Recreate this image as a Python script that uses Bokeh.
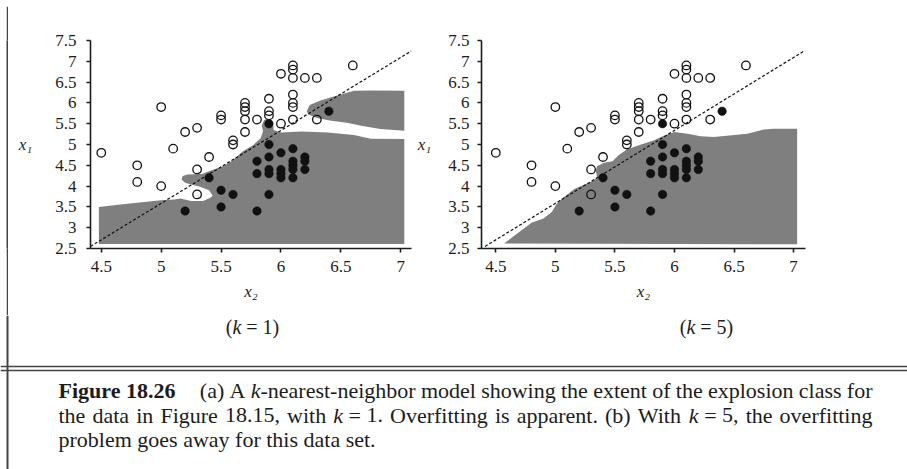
from bokeh.plotting import figure
from bokeh.models import (Range1d, FixedTicker, CustomJSTickFormatter, ColumnDataSource,
                          Span, Spacer)
from bokeh.layouts import column, row
from bokeh.embed import file_html
from bokeh.resources import INLINE
from bokeh.core.properties import value

# ---------------- data ----------------
open_x = [4.5, 4.8, 4.8, 5.0, 5.0, 5.1, 5.2, 5.3, 5.3, 5.3, 5.4, 5.5, 5.5, 5.6, 5.6,
          5.7, 5.7, 5.7, 5.7, 5.7, 5.8, 5.9, 5.9, 5.9, 6.0, 6.0,
          6.1, 6.1, 6.1, 6.1, 6.1, 6.1, 6.1, 6.2, 6.3, 6.3, 6.6]
open_y = [4.8, 4.5, 4.1, 5.9, 4.0, 4.9, 5.3, 5.4, 4.4, 3.8, 4.7, 5.7, 5.6, 5.1, 5.0,
          6.0, 5.9, 5.8, 5.6, 5.3, 5.6, 6.1, 5.8, 5.7, 6.7, 5.5,
          6.9, 6.8, 6.6, 6.2, 6.0, 5.9, 5.6, 6.6, 6.6, 5.6, 6.9]

filled_x = [5.2, 5.4, 5.5, 5.5, 5.6, 5.8, 5.8, 5.8, 5.9, 5.9, 5.9, 5.9, 5.9, 5.9,
            6.0, 6.0, 6.0, 6.0, 6.1, 6.1, 6.1, 6.1, 6.1, 6.2, 6.2, 6.2, 6.4]
filled_y = [3.4, 4.2, 3.9, 3.5, 3.8, 4.6, 4.3, 3.4, 5.5, 5.0, 4.7, 4.4, 4.3, 3.8,
            4.8, 4.4, 4.3, 4.2, 4.9, 4.6, 4.5, 4.4, 4.2, 4.7, 4.6, 4.4, 5.8]

# dashed linear separator
sep_x = [4.41, 7.09]
sep_y = [2.55, 7.25]

# k = 1 region (main part and upper lobe)
k1_main_x = [4.48, 4.48, 4.66, 5.00, 5.11, 5.16, 5.25, 5.35, 5.41, 5.43, 5.40, 5.33, 5.25,
             5.20, 5.17, 5.18, 5.22, 5.34, 5.41, 5.51, 5.57, 5.63, 5.68, 5.77, 5.83, 5.85,
             5.84, 5.86, 5.89, 5.93, 5.94, 6.00, 6.17, 6.39, 6.61, 6.75, 7.03, 7.03]
k1_main_y = [2.61, 3.50, 3.56, 3.66, 3.68, 3.70, 3.64, 3.64, 3.72, 3.77, 3.90, 3.98, 4.04,
             4.08, 4.16, 4.24, 4.28, 4.29, 4.37, 4.47, 4.56, 4.70, 4.83, 4.99, 5.15, 5.31,
             5.47, 5.59, 5.62, 5.56, 5.35, 5.29, 5.31, 5.29, 5.23, 5.14, 5.13, 2.61]
k1_lobe_x = [6.215, 6.24, 6.33, 6.47, 6.61, 6.75, 7.03, 7.03, 6.83, 6.67, 6.55, 6.42, 6.30, 6.23]
k1_lobe_y = [5.80, 5.95, 6.06, 6.18, 6.29, 6.30, 6.29, 5.33, 5.37, 5.45, 5.52, 5.57, 5.64, 5.72]

# k = 5 region
k5_x = [4.57, 4.68, 4.80, 4.90, 4.97, 5.01, 5.07, 5.16, 5.24, 5.32, 5.35, 5.34, 5.35, 5.41,
        5.48, 5.53, 5.60, 5.72, 5.83, 5.91, 6.00, 6.11, 6.22, 6.33, 6.44, 6.61, 6.75, 6.83,
        7.03, 7.03]
k5_y = [2.62, 2.86, 3.12, 3.22, 3.38, 3.57, 3.73, 3.93, 4.03, 4.13, 4.21, 4.37, 4.48, 4.56,
        4.60, 4.74, 4.88, 5.00, 5.10, 5.21, 5.30, 5.26, 5.20, 5.18, 5.21, 5.26, 5.36, 5.38,
        5.38, 2.60]

x_ticks = [4.5, 5, 5.5, 6, 6.5, 7]
y_ticks = [2.5, 3, 3.5, 4, 4.5, 5, 5.5, 6, 6.5, 7, 7.5]

x_label = "x\u2082"
y_label = "x\u2081"
panel_titles = [("k", "= 1)"), ("k", "= 5)")]

caption_bold = "Figure 18.26"
caption_line1 = [[("(a)", "normal")], [("A", "normal")],
                 [("k", "italic"), ("-nearest-neighbor", "normal")],
                 [("model", "normal")], [("showing", "normal")], [("the", "normal")],
                 [("extent", "normal")], [("of", "normal")], [("the", "normal")],
                 [("explosion", "normal")], [("class", "normal")], [("for", "normal")]]
caption_line2 = [[("the", "normal")], [("data", "normal")], [("in", "normal")],
                 [("Figure", "normal")], [("18.15,", "normal")], [("with", "normal")],
                 [("k", "italic"), (" ", "normal"), ("=", "normal"), (" ", "normal"), ("1.", "normal")],
                 [("Overfitting", "normal")], [("is", "normal")], [("apparent.", "normal")],
                 [("(b)", "normal")], [("With", "normal")],
                 [("k", "italic"), (" ", "normal"), ("=", "normal"), (" ", "normal"), ("5,", "normal")],
                 [("the", "normal")], [("overfitting", "normal")]]
caption_line3 = [[(w, "normal")] for w in "problem goes away for this data set.".split()]

# ---------------- styling ----------------
SERIF = "Liberation Serif"
GREY = "#7f7f7f"
INK = "#1c1c1c"
RULE = "#444444"

# Times-compatible advance widths (1/1000 em) used only for laying out caption words
W_N = {' ': 250, '(': 333, ')': 333, ',': 250, '-': 333, '.': 250, '=': 564,
       'A': 722, 'F': 556, 'O': 722, 'W': 944, 'a': 444, 'b': 500, 'c': 444, 'd': 500,
       'e': 444, 'f': 333, 'g': 500, 'h': 500, 'i': 278, 'k': 500, 'l': 278, 'm': 778,
       'n': 500, 'o': 500, 'p': 500, 'r': 333, 's': 389, 't': 278, 'u': 500, 'v': 500,
       'w': 722, 'x': 500, 'y': 500}
W_B = {' ': 250, 'F': 611, 'i': 278, 'g': 500, 'u': 556, 'r': 444, 'e': 444, '.': 250}
W_I = {'k': 444, ' ': 250}
WIDTHS = {"normal": W_N, "bold": W_B, "italic": W_I}


def tw(text, style, size):
    tab = WIDTHS[style]
    return sum(tab.get(c, 500) for c in text) * size / 1000.0


def make_panel(width, height, xr, mb_left, mb_right, mb_top, mb_bottom, patches,
               ylab_standoff, tick_standoff):
    p = figure(width=width, height=height, x_range=Range1d(*xr), y_range=Range1d(2.5, 7.5),
               output_backend="svg", toolbar_location=None,
               min_border_left=mb_left, min_border_right=mb_right,
               min_border_top=mb_top, min_border_bottom=mb_bottom)
    p.outline_line_color = None
    p.xgrid.visible = False
    p.ygrid.visible = False
    p.background_fill_color = "white"
    p.border_fill_color = "white"
    for xs, ys in patches:
        p.patch(xs, ys, fill_color=GREY, line_color=None)
    p.line(sep_x, sep_y, line_color="#111111", line_width=1.2, line_dash="3 2")
    p.scatter(open_x, open_y, marker="circle", size=8.5, fill_alpha=0,
              line_color="#111111", line_width=1.3)
    p.scatter(filled_x, filled_y, marker="circle", size=8.5, fill_color="#111111",
              line_color="#111111", line_width=0.5)
    fmt = CustomJSTickFormatter(code="return String(tick);")
    p.xaxis.ticker = FixedTicker(ticks=x_ticks)
    p.yaxis.ticker = FixedTicker(ticks=y_ticks)
    for ax in (p.xaxis[0], p.yaxis[0]):
        ax.formatter = fmt
        ax.axis_line_color = INK
        ax.axis_line_width = 1.6
        ax.major_tick_line_color = INK
        ax.major_tick_line_width = 1.6
        ax.major_tick_in = 0
        ax.major_tick_out = 4
        ax.minor_tick_line_color = None
        ax.major_label_text_font = SERIF
        ax.major_label_text_font_size = "17px"
        ax.major_label_text_color = INK
        ax.axis_label_text_font = SERIF
        ax.axis_label_text_font_style = "italic"
        ax.axis_label_text_font_size = "17px"
        ax.axis_label_text_color = INK
    p.xaxis.major_label_standoff = 8
    p.yaxis.major_label_standoff = tick_standoff
    p.xaxis.axis_label = x_label
    p.xaxis.axis_label_standoff = 7
    p.yaxis.axis_label = y_label
    p.yaxis.axis_label_orientation = "horizontal"
    p.yaxis.axis_label_standoff = ylab_standoff
    return p


ROW_H = 309
left = make_panel(406, ROW_H, (4.41, 7.09), 82, 3, 32, 67,
                  [(k1_main_x, k1_main_y), (k1_lobe_x, k1_lobe_y)], 20, 10)
right = make_panel(493, ROW_H, (4.38, 7.10), 67, 102, 34, 65,
                   [(k5_x, k5_y)], 14, 8)


def strip(w, h):
    s = figure(width=w, height=h, output_backend="svg", toolbar_location=None,
               x_axis_location=None, y_axis_location=None, min_border=0,
               x_range=Range1d(0, 1), y_range=Range1d(0, 1))
    s.outline_line_color = None
    s.grid.visible = False
    s.background_fill_color = RULE
    s.border_fill_color = RULE
    return s


top_rule = row(Spacer(width=6, height=2), strip(901, 2))
left_rule = strip(2, ROW_H)

# caption figure: data units equal window pixels (x from left, y from top)
cap = figure(width=907, height=154, output_backend="svg", toolbar_location=None,
             x_axis_location=None, y_axis_location=None, min_border=0,
             x_range=Range1d(0, 907), y_range=Range1d(469, 315))
cap.outline_line_color = None
cap.grid.visible = False
cap.add_layout(Span(location=7, dimension="height", line_color=RULE, line_width=2))
cap.add_layout(Span(location=366, dimension="width", line_color=RULE, line_width=1.6))
cap.add_layout(Span(location=370, dimension="width", line_color=RULE, line_width=1.6))

CAP_SIZE = 22
SUB_SIZE = 20
segs = {(s, z): {"x": [], "y": [], "text": []}
        for s in ("normal", "bold", "italic") for z in (CAP_SIZE, SUB_SIZE)}


def put(text, style, x, y, size):
    d = segs[(style, size)]
    d["x"].append(x)
    d["y"].append(y)
    d["text"].append(text)


def lay_words(words, x0, x1, y, size, justify):
    widths = [sum(tw(t, s, size) for t, s in w) for w in words]
    if justify:
        gap = (x1 - x0 - sum(widths)) / (len(words) - 1)
    else:
        gap = 0.25 * size
    x = x0
    for w, ww in zip(words, widths):
        xx = x
        for t, s in w:
            if t.strip():
                put(t, s, xx, y, size)
            xx += tw(t, s, size)
        x += ww + gap


# panel sub-titles
for (kt, rest), cx in zip(panel_titles, [252, 706]):
    parts = [("(", "normal"), (kt, "italic"), (" ", "normal"), (rest[0], "normal"),
             (" ", "normal"), (rest[2:], "normal")]
    total = sum(tw(t, s, SUB_SIZE) for t, s in parts)
    lay_words([parts], cx - total / 2, cx + total / 2, 326, SUB_SIZE, False)

x_left, x_right = 58, 872
put(caption_bold, "bold", x_left, 390, CAP_SIZE)
x_a = x_left + tw(caption_bold, "bold", CAP_SIZE) + 24
lay_words(caption_line1, x_a, x_right, 390, CAP_SIZE, True)
lay_words(caption_line2, x_left, x_right, 414.5, CAP_SIZE, True)
lay_words(caption_line3, x_left, x_right, 438.5, CAP_SIZE, False)

for (style, size), d in segs.items():
    if not d["x"]:
        continue
    cap.text(x="x", y="y", text="text", source=ColumnDataSource(d),
             text_font=value(SERIF), text_font_style=style,
             text_font_size=f"{size}px", text_color=INK,
             text_align="left", text_baseline="alphabetic")

layout = column(Spacer(width=907, height=4), top_rule,
                row(Spacer(width=6, height=ROW_H), left_rule, left, right), cap)
open("out.html", "w").write(file_html(layout, INLINE))
